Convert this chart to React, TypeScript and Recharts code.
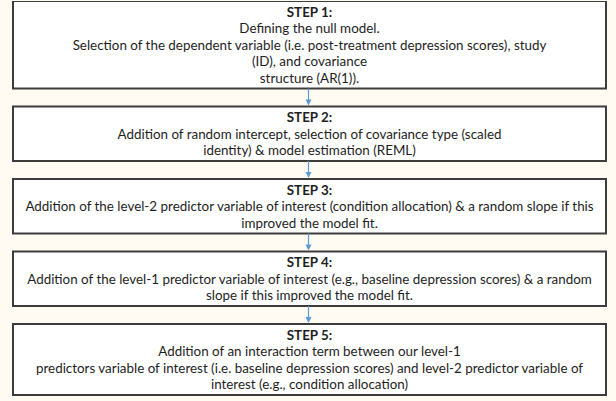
import React from "react";
import { BarChart, Bar, XAxis, YAxis } from "recharts";

// flowchart content
const stepTitles = ["STEP 1:", "STEP 2:", "STEP 3:", "STEP 4:", "STEP 5:"];

const stepLines = [
  [
    "Defining the null model.",
    "Selection of the dependent variable (i.e. post-treatment depression scores), study",
    "(ID), and covariance",
    "structure (AR(1)).",
  ],
  [
    "Addition of random intercept, selection of covariance type (scaled",
    "identity) & model estimation (REML)",
  ],
  [
    "Addition of the level-2 predictor variable of interest (condition allocation) & a random slope if this",
    "improved the model fit.",
  ],
  [
    "Addition of the level-1 predictor variable of interest (e.g., baseline depression scores) & a random",
    "slope if this improved the model fit.",
  ],
  [
    "Addition of an interaction term between our level-1",
    "predictors variable of interest (i.e. baseline depression scores) and level-2 predictor variable of",
    "interest (e.g., condition allocation)",
  ],
];

const W = 616;
const H = 401;
const LINE_H = 16.5;
const BOX_PAD = 5;
const GAP = 18;
const FONT = "Lato, 'Liberation Sans', Arial, sans-serif";
const FONT_SIZE = 13.4;

// box height follows from how many text lines each step has
const boxHeight = (i: number) => (stepLines[i].length + 1) * LINE_H + BOX_PAD;

const row: Record<string, any> = { name: "flow" };
const keys: { key: string; kind: "box" | "gap"; idx: number }[] = [];
stepTitles.forEach((_, i) => {
  row[`box${i}`] = boxHeight(i);
  keys.push({ key: `box${i}`, kind: "box", idx: i });
  if (i < stepTitles.length - 1) {
    row[`gap${i}`] = GAP;
    keys.push({ key: `gap${i}`, kind: "gap", idx: i });
  }
});
const data = [row];

function StepBox(props: any) {
  const { x, y, width, height, idx } = props;
  const top = Math.min(y, y + height);
  const h = Math.abs(height);
  const cx = x + width / 2;
  const lines = [stepTitles[idx], ...stepLines[idx]];
  return (
    <g>
      <rect x={x} y={top} width={width} height={h} fill="#ffffff" stroke="#3c3c3c" strokeWidth={2} />
      {lines.map((t, j) => (
        <text
          key={j}
          x={cx}
          y={top + 10.5 + j * LINE_H}
          textAnchor="middle"
          dominantBaseline="central"
          fontFamily={FONT}
          fontSize={FONT_SIZE}
          fontWeight={j === 0 ? 700 : 400}
          fill="#1e1e1e"
        >
          {t}
        </text>
      ))}
    </g>
  );
}

function Arrow(props: any) {
  const { x, y, width, height } = props;
  const top = Math.min(y, y + height);
  const h = Math.abs(height);
  const cx = x + width / 2 - 1;
  const end = top + h - 1;
  return (
    <g>
      <line x1={cx} y1={top} x2={cx} y2={end - 4} stroke="#5b9bd5" strokeWidth={1.2} />
      <polygon points={`${cx - 3},${end - 6} ${cx + 3},${end - 6} ${cx},${end}`} fill="#5b9bd5" />
    </g>
  );
}

export default function App() {
  return (
    <div style={{ position: "absolute", left: 0, top: 0, width: W, height: H, background: "#fffaf2" }}>
      <BarChart
        width={W}
        height={H}
        data={data}
        margin={{ top: 1, right: 10, bottom: 0, left: 13 }}
        barCategoryGap={0}
      >
        <XAxis dataKey="name" type="category" hide />
        <YAxis type="number" domain={[0, H - 1]} reversed hide allowDataOverflow />
        {keys.map((k) => (
          <Bar
            key={k.key}
            dataKey={k.key}
            stackId="flow"
            isAnimationActive={false}
            shape={(p: any) =>
              k.kind === "box" ? <StepBox {...p} idx={k.idx} /> : <Arrow {...p} />
            }
          />
        ))}
      </BarChart>
    </div>
  );
}
